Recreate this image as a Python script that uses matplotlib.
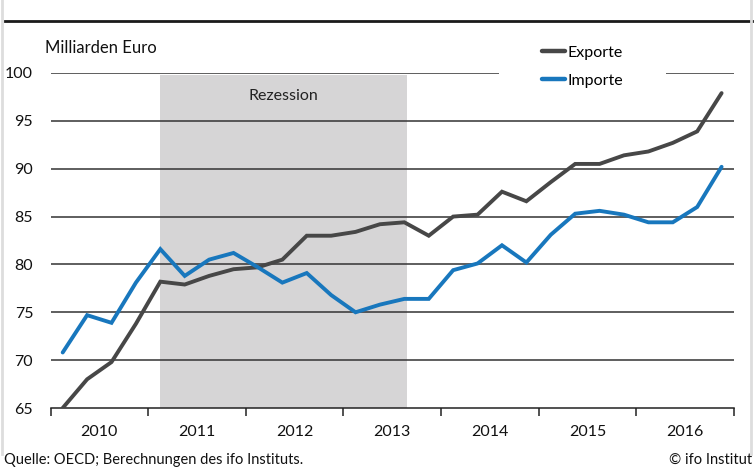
import matplotlib
matplotlib.use("Agg")
import matplotlib.pyplot as plt
from matplotlib.lines import Line2D
from matplotlib.patches import Rectangle

plt.rcParams['font.family'] = ['Lato', 'DejaVu Sans']

# quarterly values 2010 Q1 .. 2016 Q4 (Milliarden Euro)
years = ['2010', '2011', '2012', '2013', '2014', '2015', '2016']
exporte = [65.0, 68.0, 69.8, 73.8, 78.2, 77.9, 78.8, 79.5, 79.7, 80.5, 83.0, 83.0, 83.4, 84.2,
           84.4, 83.0, 85.0, 85.2, 87.6, 86.6, 88.6, 90.5, 90.5, 91.4, 91.8, 92.7, 93.9, 97.9]
importe = [70.8, 74.7, 73.9, 78.1, 81.6, 78.8, 80.5, 81.2, 79.7, 78.1, 79.1, 76.8, 75.0, 75.8,
           76.4, 76.4, 79.4, 80.1, 82.0, 80.2, 83.1, 85.3, 85.6, 85.2, 84.4, 84.4, 86.0, 90.2]
# recession band in quarter index units
rezession_start = 4.0
rezession_end = 14.1
rezession_top = 99.75

fig = plt.figure(figsize=(7.55, 4.68), dpi=100)
ax = fig.add_axes([50.5 / 755, 60 / 468, 683.3 / 755, 335 / 468])

x = list(range(len(exporte)))

ax.add_patch(Rectangle((rezession_start, 65), rezession_end - rezession_start,
                       rezession_top - 65, facecolor='#d6d5d6', edgecolor='none', zorder=0))
ax.text((rezession_start + rezession_end) / 2, 97.6, 'Rezession', ha='center', va='center',
        fontsize=11.5, color='#222222', zorder=1)

for v in range(70, 101, 5):
    ax.axhline(v, color='#333333', lw=1.1, zorder=1)

ax.plot(x, exporte, color='#474747', lw=2.8, label='Exporte', zorder=3,
        solid_joinstyle='miter', solid_capstyle='round')
ax.plot(x, importe, color='#1877bd', lw=2.8, label='Importe', zorder=3,
        solid_joinstyle='miter', solid_capstyle='round')

ax.set_xlim(-0.5, len(exporte) - 0.5)
ax.set_ylim(65, 100)
ax.set_yticks(range(65, 101, 5))
ax.tick_params(axis='y', length=0, pad=12.5, labelsize=11.5, colors='#111111')

ax.set_xticks([i * 4 - 0.5 for i in range(len(years) + 1)])
ax.set_xticklabels([])
ax.set_xticks([i * 4 + 1.5 for i in range(len(years))], minor=True)
ax.set_xticklabels(years, minor=True)
ax.tick_params(axis='x', which='major', length=6, width=1.1, color='#222222', direction='out')
ax.tick_params(axis='x', which='minor', length=0, pad=12, labelsize=11.5, colors='#111111')

for s in ['top', 'right', 'left']:
    ax.spines[s].set_visible(False)
ax.spines['bottom'].set_color('#222222')
ax.spines['bottom'].set_linewidth(1.1)

# white gap in the top gridline behind the legend
ax.add_patch(Rectangle((448.5 / 683.3, 0.97), 167 / 683.3, 0.06, transform=ax.transAxes,
                       facecolor='white', edgecolor='none', zorder=2, clip_on=False))

leg = ax.legend(loc='upper left', bbox_to_anchor=(480 / 683.3, 1.115), frameon=False,
                fontsize=11.5, handlelength=1.45, handletextpad=0.15, labelspacing=0.85,
                borderpad=0.2)
leg.set_zorder(5)
for h in leg.get_lines():
    h.set_linewidth(3.2)

fig.text(45 / 755, 1 - 48 / 468, 'Milliarden Euro', ha='left', va='center', fontsize=12,
         color='#111111')
fig.text(4 / 755, 1 - 460 / 468, 'Quelle: OECD; Berechnungen des ifo Instituts.', ha='left',
         va='center', fontsize=10.5, color='#111111')
fig.text(752 / 755, 1 - 460 / 468, '© ifo Institut', ha='right', va='center', fontsize=10.5,
         color='#111111')

# header rule and light frame
fig.add_artist(Line2D([5 / 755, 752 / 755], [1 - 21 / 468] * 2, color='#1a1a1a', lw=2))
fig.add_artist(Line2D([2 / 755, 2 / 755], [0.03, 1], color='#dddddd', lw=2))
fig.add_artist(Line2D([751 / 755, 751 / 755], [0.03, 1], color='#dddddd', lw=2))

fig.savefig('out.png', dpi=100)
